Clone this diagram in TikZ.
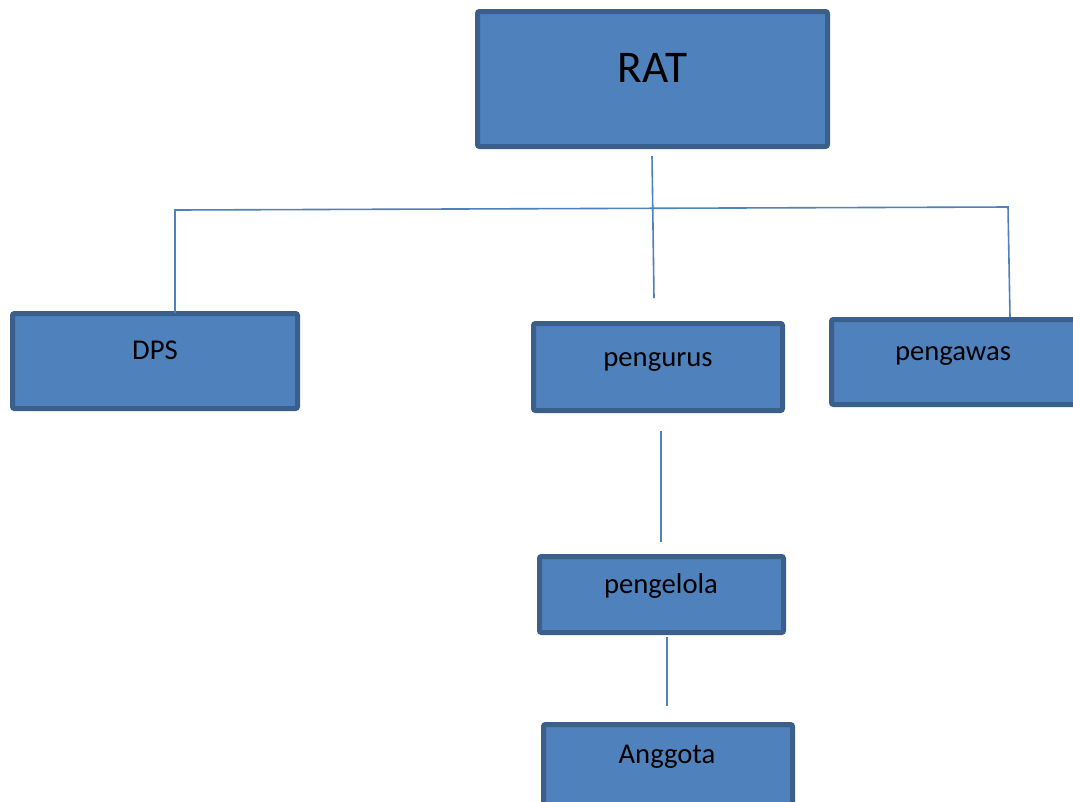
\documentclass[tikz,border=0pt]{standalone}
\usepackage{fontspec}
\setmainfont{Carlito}
\usetikzlibrary{calc}
\definecolor{boxfill}{HTML}{4F81BD}
\definecolor{boxedge}{HTML}{3A5F8B}
\definecolor{linkcol}{HTML}{4F81BD}
\tikzset{
  orgbox/.style={draw=boxedge, fill=boxfill, line width=3.75pt, rounded corners=1.5pt, inner sep=0pt},
  orgtext/.style={anchor=base, inner sep=0pt, font=\fontsize{21.5pt}{24pt}\selectfont},
  link/.style={draw=linkcol, line width=1.2pt}
}
\begin{document}
\begin{tikzpicture}[x=0.75pt, y=-0.75pt]
\clip (0,0) rectangle (1073,801);
\fill[white] (0,0) rectangle (1073,801);
% boxes
\node[orgbox, minimum width=262.5pt, minimum height=101.25pt] (rat) at (652.5,79) {};
\node[orgbox, minimum width=213.75pt, minimum height=71.25pt] (dps) at (155,361) {};
\node[orgbox, minimum width=186.75pt, minimum height=65.25pt] (pengurus) at (658,367) {};
\node[orgbox, minimum width=184.5pt, minimum height=63.75pt] (pengawas) at (954.5,362) {};
\node[orgbox, minimum width=183pt, minimum height=57pt] (pengelola) at (661.5,594.5) {};
\node[orgbox, minimum width=186.75pt, minimum height=63.75pt] (anggota) at (668,767) {};
% texts
\node[orgtext, font=\fontsize{34pt}{38pt}\selectfont] (tRAT) at (652.5,82) {RAT};
\node[orgtext] (tDPS) at (155,359) {DPS};
\node[orgtext] (tpengurus) at (658,366) {pengurus};
\node[orgtext] (tpengawas) at (953,360) {pengawas};
\node[orgtext] (tpengelola) at (661,593) {pengelola};
\node[orgtext] (tanggota) at (667,763) {Anggota};
% connector coordinates
\coordinate (c1a) at (652,156);
\coordinate (c1b) at (654,298);
\coordinate (hl) at (175,210);
\coordinate (hr) at (1008,207);
\coordinate (dpsTop) at (175,313);
\coordinate (pawTop) at (1010,317);
\coordinate (c2a) at (661,431);
\coordinate (c2b) at (661,542);
\coordinate (c3a) at (667,637);
\coordinate (c3b) at (667,706);
% connectors
\draw[link] (c1a) -- (c1b);
\draw[link] (dpsTop) -- (hl) -- (hr) -- (pawTop);
\draw[link] (c2a) -- (c2b);
\draw[link] (c3a) -- (c3b);
\end{tikzpicture}
\end{document}
